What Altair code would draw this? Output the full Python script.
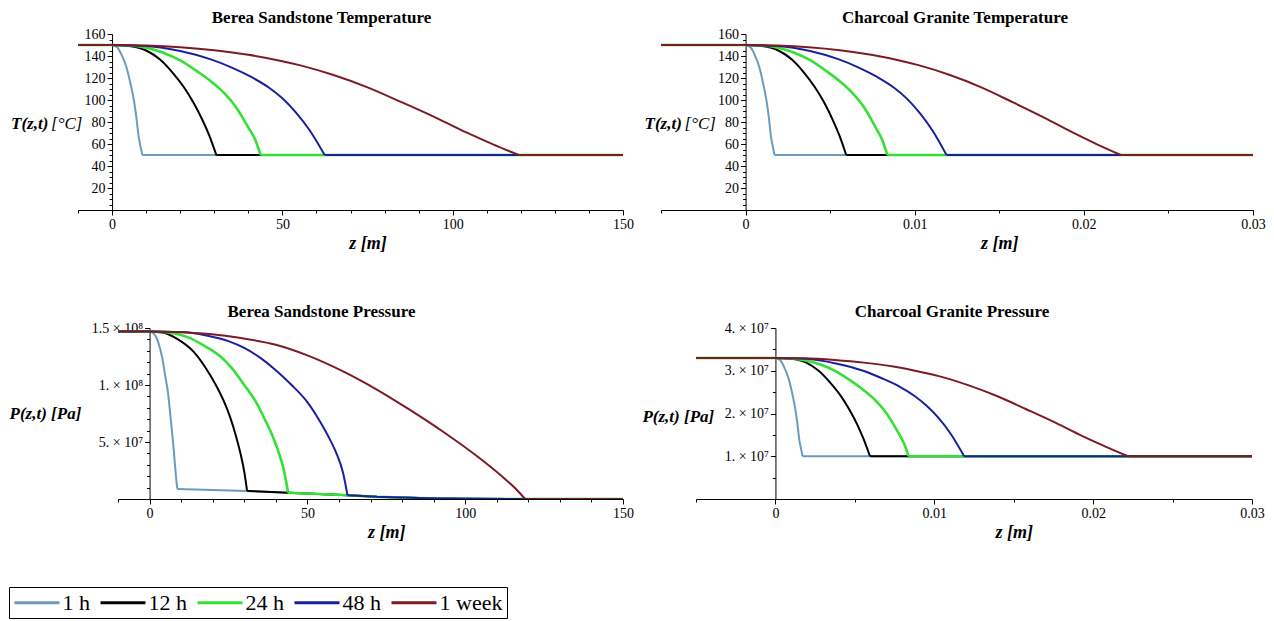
import altair as alt
import pandas as pd

SERIES = ["1 h", "12 h", "24 h", "48 h", "1 week"]
COLORS = ["#6b9bbd", "#000000", "#35e035", "#1b1f9c", "#7d1a24"]
WIDTHS = [2.0, 2.0, 2.6, 2.0, 2.0]
SERIF = "Liberation Serif"

# ---------------- Berea Sandstone Temperature (z [m], T [°C]) ----------------
BT_FRONT = [8.9, 30.6, 43.6, 62.4, 119.4]
BT_Z_1H = [-10, 0, 1.5, 2.8, 4.2, 5.4, 6.4, 7.1, 7.8, 8.4, 8.9, 150]
BT_T_1H = [150, 150, 148, 141, 130, 115, 100, 85, 67, 57, 50, 50]
BT_Z_12H = [-10, 0, 5, 10, 14, 18, 21, 24, 26.5, 28.5, 30.6, 150]
BT_T_12H = [150, 150, 149, 145, 137, 124, 112, 97, 82, 68, 50, 50]
BT_Z_24H = [-10, 0, 5, 10, 15, 20, 25, 29, 33, 36.5, 40, 42, 43.6, 150]
BT_T_24H = [150, 150, 149.5, 147.5, 143, 136, 126, 117, 106, 93, 75, 64, 50, 50]
BT_Z_48H = [-10, 0, 10, 20, 29, 35, 41, 46, 50, 54, 58, 62.4, 150]
BT_T_48H = [150, 150, 149, 144.5, 136.9, 129.7, 120.7, 111.4, 101.5, 88.5, 72.5, 50, 50]
BT_Z_1W = [-10, 0, 10, 20, 30, 40, 50, 55, 65, 75, 85, 95, 104, 112, 119.4, 150]
BT_T_1W = [150, 150, 149.5, 148, 145.3, 141.1, 135.3, 131.7, 122.7, 111.5, 98, 84, 70.5, 59.5, 50, 50]

# ---------------- Charcoal Granite Temperature (z [m], T [°C]) ----------------
CT_FRONT = [0.00171, 0.00595, 0.00838, 0.01188, 0.02219]
CT_Z_1H = [-0.005, 0, 0.00029, 0.00054, 0.00081, 0.00104, 0.00123, 0.00137, 0.0015, 0.00162, 0.00171, 0.03]
CT_T_1H = [150, 150, 148, 141, 130, 115, 100, 85, 67, 57, 50, 50]
CT_Z_12H = [-0.005, 0, 0.00097, 0.00194, 0.00272, 0.0035, 0.00408, 0.00467, 0.00515, 0.00554, 0.00595, 0.03]
CT_T_12H = [150, 150, 149, 145, 137, 124, 112, 97, 82, 68, 50, 50]
CT_Z_24H = [-0.005, 0, 0.00096, 0.00192, 0.00288, 0.00384, 0.0048, 0.00557, 0.00634, 0.00702, 0.00769, 0.00807, 0.00838, 0.03]
CT_T_24H = [150, 150, 149.5, 147.5, 143, 136, 126, 117, 106, 93, 75, 64, 50, 50]
CT_Z_48H = [-0.005, 0, 0.0019, 0.00381, 0.00552, 0.00666, 0.00781, 0.00876, 0.00952, 0.01028, 0.01104, 0.01188, 0.03]
CT_T_48H = [150, 150, 149, 144.5, 136.9, 129.7, 120.7, 111.4, 101.5, 88.5, 72.5, 50, 50]
CT_Z_1W = [-0.005, 0, 0.00186, 0.00372, 0.00557, 0.00743, 0.00929, 0.01022, 0.01208, 0.01394, 0.01579, 0.01765, 0.01933, 0.02081, 0.02219, 0.03]
CT_T_1W = [150, 150, 149.5, 148, 145.3, 141.1, 135.3, 131.7, 122.7, 111.5, 98, 84, 70.5, 59.5, 50, 50]

# ---------------- Berea Sandstone Pressure (z [m], P [Pa]) ----------------
BP_FRONT = [8.8, 30.9, 43.9, 62.7, 119]
BP_Z_1H = [-10, 0, 1.4, 2.8, 4.0, 4.9, 5.9, 6.6, 7.3, 7.9, 8.4, 8.8, 31, 44, 63, 72, 88, 100, 120, 150]
BP_P_1H = [14.7e7, 14.7e7, 14.5e7, 13.7e7, 12.4e7, 10.9e7, 9.2e7, 7.3e7, 5.4e7, 3.5e7, 1.9e7, 0.88e7,
           0.71e7, 0.55e7, 0.33e7, 0.19e7, 0.06e7, 0.015e7, 0, 0]
BP_Z_12H = [-10, 0, 4, 9, 14, 18, 21, 23.5, 25.5, 27.3, 28.8, 30, 30.9, 44, 63, 72, 88, 100, 120, 150]
BP_P_12H = [14.7e7, 14.7e7, 14.6e7, 14.0e7, 12.9e7, 11.4e7, 10.0e7, 8.6e7, 7.2e7, 5.6e7, 4.0e7, 2.4e7, 0.71e7,
            0.55e7, 0.33e7, 0.19e7, 0.06e7, 0.015e7, 0, 0]
BP_Z_24H = [-10, 0, 6, 12, 17, 22, 26, 30, 33.5, 36.5, 39, 41, 42.5, 43.9, 63, 72, 88, 100, 120, 150]
BP_P_24H = [14.7e7, 14.7e7, 14.6e7, 14.2e7, 13.5e7, 12.6e7, 11.5e7, 10.0e7, 8.6e7, 7.0e7, 5.5e7, 4.0e7, 2.6e7, 0.55e7,
            0.33e7, 0.19e7, 0.06e7, 0.015e7, 0, 0]
BP_Z_48H = [-10, 0, 10, 18, 25, 30, 35, 40, 45, 50, 54, 57, 59.5, 61.3, 62.7, 72, 88, 100, 120, 150]
BP_P_48H = [14.7e7, 14.7e7, 14.65e7, 14.35e7, 13.85e7, 13.25e7, 12.4e7, 11.3e7, 10.0e7, 8.5e7, 6.8e7, 5.3e7, 3.8e7,
            2.3e7, 0.33e7, 0.19e7, 0.06e7, 0.015e7, 0, 0]
BP_Z_1W = [-10, 0, 8, 19, 29, 40, 50, 61, 72, 82, 93, 104, 112, 116, 119, 150]
BP_P_1W = [14.7e7, 14.7e7, 14.65e7, 14.47e7, 14.12e7, 13.53e7, 12.6e7, 11.24e7, 9.6e7, 7.9e7, 5.9e7, 3.7e7,
           1.9e7, 0.9e7, 0, 0]

# ---------------- Charcoal Granite Pressure (z [m], P [Pa]) ----------------
CP_FRONT = CT_FRONT
CP_Z_1H = CT_Z_1H
CP_P_1H = [3.3e7, 3.3e7, 3.25e7, 3.09e7, 2.84e7, 2.5e7, 2.15e7, 1.8e7, 1.39e7, 1.16e7, 1.0e7, 1.0e7]
CP_Z_12H = CT_Z_12H
CP_P_12H = [3.3e7, 3.3e7, 3.28e7, 3.19e7, 3.0e7, 2.7e7, 2.43e7, 2.08e7, 1.74e7, 1.41e7, 1.0e7, 1.0e7]
CP_Z_24H = CT_Z_24H
CP_P_24H = [3.3e7, 3.3e7, 3.29e7, 3.24e7, 3.14e7, 2.98e7, 2.75e7, 2.54e7, 2.29e7, 1.99e7, 1.58e7, 1.32e7, 1.0e7, 1.0e7]
CP_Z_48H = CT_Z_48H
CP_P_48H = [3.3e7, 3.3e7, 3.28e7, 3.17e7, 3.0e7, 2.83e7, 2.63e7, 2.41e7, 2.18e7, 1.89e7, 1.52e7, 1.0e7, 1.0e7]
CP_Z_1W = CT_Z_1W
CP_P_1W = [3.3e7, 3.3e7, 3.29e7, 3.25e7, 3.19e7, 3.1e7, 2.96e7, 2.88e7, 2.67e7, 2.41e7, 2.1e7, 1.78e7, 1.47e7,
           1.22e7, 1.0e7, 1.0e7]

# axis ticks
Z1_MAJOR = [0, 50, 100, 150]
Z1_MINOR = [-10, 10, 20, 30, 40, 60, 70, 80, 90, 110, 120, 130, 140]
Z2_MAJOR = [0, 0.01, 0.02, 0.03]
Z2_MINOR = [-0.005, 0.005, 0.015, 0.025]
T_MAJOR = [20, 40, 60, 80, 100, 120, 140, 160]
T_MINOR = [5, 10, 15, 25, 30, 35, 45, 50, 55, 65, 70, 75, 85, 90, 95, 105, 110, 115, 125, 130, 135, 145, 150, 155]
BP_MAJOR = [5e7, 1e8, 1.5e8]
BP_MINOR = [1e7, 2e7, 3e7, 4e7, 6e7, 7e7, 8e7, 9e7, 1.1e8, 1.2e8, 1.3e8, 1.4e8]
BP_LABELS = ["5. × 10⁷", "1. × 10⁸", "1.5 × 10⁸"]
CP_MAJOR = [1e7, 2e7, 3e7, 4e7]
CP_MINOR = [5e6, 1.5e7, 2.5e7, 3.5e7]
CP_LABELS = ["1. × 10⁷", "2. × 10⁷", "3. × 10⁷", "4. × 10⁷"]


def frame(zs, vs, fronts):
    """Long table; each point tagged with the part(s) of the profile it belongs to."""
    rows = []
    for s, z, v, f in zip(SERIES, zs, vs, fronts):
        for a, b in zip(z, v):
            if a <= 0:
                rows.append({"series": s, "part": "left", "z": a, "v": b})
            if 0 <= a <= f:
                rows.append({"series": s, "part": "curve", "z": a, "v": b})
            if a >= f:
                rows.append({"series": s, "part": "right", "z": a, "v": b})
    return pd.DataFrame(rows)


LEGEND = alt.Legend(
    title=None, orient="none", legendX=-69, legendY=553, direction="horizontal",
    symbolType="M-2.25,0H2.25", symbolSize=400, symbolStrokeWidth=3, symbolOffset=12.5,
    labelFont=SERIF, labelFontSize=22, labelColor="black", labelOffset=14,
    columnPadding=4, padding=4, strokeColor="black",
)
COLOR = alt.Color("series:N", scale=alt.Scale(domain=SERIES, range=COLORS), legend=LEGEND)


def tick_cond(major, big, small):
    return {"condition": {"test": f"indexof({list(major)}, datum.value) >= 0", "value": big}, "value": small}


def label_expr(major, labels=None):
    if labels is None:
        return f"indexof({list(major)}, datum.value) >= 0 ? datum.label : ''"
    expr = "''"
    for v, l in zip(major, labels):
        expr = f"datum.value == {v} ? '{l}' : ({expr})"
    return expr


def panel(df, title, title_dx, xdom, xrange, xmajor, xminor, ydom, ymajor, yminor, ylabels,
          width, height, ytitle_parts, ytitle_y):
    zero_px = xrange[0] + (xrange[1] - xrange[0]) * (0 - xdom[0]) / (xdom[1] - xdom[0])
    xaxis = alt.Axis(
        values=sorted(xmajor + xminor), labelExpr=label_expr(xmajor), format="~r",
        tickSize=tick_cond(xmajor, 5, 3), tickColor="black", domainColor="black",
        labelFont=SERIF, labelFontSize=14, labelColor="black", labelPadding=2,
        labelFlush=False, labelOverlap=False, labelBound=False, grid=False,
        title="z [m]", titleFont=SERIF, titleFontSize=18, titleFontWeight="bold",
        titleFontStyle="italic", titleColor="black", titleX=(zero_px + xrange[1]) / 2,
        titleY=33, titleAlign="center", titleBaseline="middle",
    )
    yaxis = alt.Axis(
        values=sorted(ymajor + yminor), labelExpr=label_expr(ymajor, ylabels), format="~r",
        tickSize=tick_cond(ymajor, 5, 3), tickColor="black", domainColor="black",
        labelFont=SERIF, labelFontSize=14, labelColor="black", labelPadding=2,
        labelFlush=False, labelOverlap=False, labelBound=False, grid=False,
        title=None, offset=-zero_px,
    )
    x = alt.X("z:Q", scale=alt.Scale(domain=xdom, range=xrange, nice=False, zero=False), axis=xaxis)
    y = alt.Y("v:Q", scale=alt.Scale(domain=ydom, nice=False, zero=False), axis=yaxis)
    layers = []
    for s, w in zip(SERIES, WIDTHS):
        base = alt.Chart(df).transform_filter(alt.datum.series == s)
        layers.append(
            base.transform_filter(alt.datum.part != "curve")
            .mark_line(strokeWidth=w, clip=True)
            .encode(x=x, y=y, color=COLOR, detail="part:N")
        )
        layers.append(
            base.transform_filter(alt.datum.part == "curve")
            .mark_line(strokeWidth=w, clip=True, interpolate="monotone")
            .encode(x=x, y=y, color=COLOR)
        )
    for text, weight, dx in ytitle_parts:
        layers.append(
            alt.Chart(pd.DataFrame({"t": [text]}))
            .mark_text(font=SERIF, fontSize=17, fontStyle="italic", fontWeight=weight,
                       align="left", baseline="middle", color="black")
            .encode(text="t:N", x=alt.value(zero_px + dx), y=alt.value(ytitle_y))
        )
    return alt.layer(*layers).properties(
        width=width, height=height,
        view=alt.ViewBackground(stroke="transparent"),
        title=alt.TitleParams(title, font=SERIF, fontSize=17, fontWeight="bold", color="black",
                              anchor="middle", frame="group", dx=title_dx, offset=0),
    )


bt = frame([BT_Z_1H, BT_Z_12H, BT_Z_24H, BT_Z_48H, BT_Z_1W], [BT_T_1H, BT_T_12H, BT_T_24H, BT_T_48H, BT_T_1W], BT_FRONT)
ct = frame([CT_Z_1H, CT_Z_12H, CT_Z_24H, CT_Z_48H, CT_Z_1W], [CT_T_1H, CT_T_12H, CT_T_24H, CT_T_48H, CT_T_1W], CT_FRONT)
bp = frame([BP_Z_1H, BP_Z_12H, BP_Z_24H, BP_Z_48H, BP_Z_1W], [BP_P_1H, BP_P_12H, BP_P_24H, BP_P_48H, BP_P_1W], BP_FRONT)
cp = frame([CP_Z_1H, CP_Z_12H, CP_Z_24H, CP_Z_48H, CP_Z_1W], [CP_P_1H, CP_P_12H, CP_P_24H, CP_P_48H, CP_P_1W], CP_FRONT)

T_TITLE = [("T(z,t)", "bold", -101), ("[°C]", "normal", -61)]

tl = panel(bt, "Berea Sandstone Temperature", -29, [-10, 150], [0, 545], Z1_MAJOR, Z1_MINOR,
           [0, 160], T_MAJOR, T_MINOR, None, 545, 176, T_TITLE, 90)
tr = panel(ct, "Charcoal Granite Temperature", -2, [-0.005, 0.03], [0, 592], Z2_MAJOR, Z2_MINOR,
           [0, 160], T_MAJOR, T_MINOR, None, 592, 176, T_TITLE, 90)
bl = panel(bp, "Berea Sandstone Pressure", -29, [-10, 150], [40, 545], Z1_MAJOR, Z1_MINOR,
           [0, 1.5e8], BP_MAJOR, BP_MINOR, BP_LABELS, 545, 171,
           [("P(z,t) [Pa]", "bold", -140)], 86)
br = panel(cp, "Charcoal Granite Pressure", -5, [-0.005, 0.03], [35, 591], Z2_MAJOR, Z2_MINOR,
           [0, 4e7], CP_MAJOR, CP_MINOR, CP_LABELS, 592, 171,
           [("P(z,t) [Pa]", "bold", -133)], 89)

row1 = alt.hconcat(tl, tr, spacing=38, bounds="flush")
row2 = alt.hconcat(bl, br, spacing=38, bounds="flush")

chart = (
    alt.vconcat(row1, row2, spacing=49,
                padding={"left": 0, "top": 0, "right": 0, "bottom": 0})
    .configure_view(stroke="transparent")
    .configure(background="white")
)

chart.save("out.html", embed_options={"renderer": "svg", "actions": False})
